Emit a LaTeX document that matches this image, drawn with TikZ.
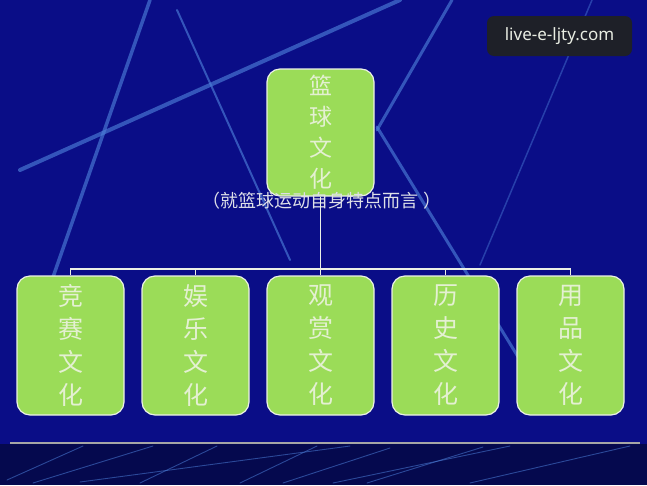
\documentclass[tikz,border=0pt]{standalone}
\usepackage{fontspec}
\setmainfont{Noto Sans}
\newfontfamily\cjk{Noto Sans CJK SC}
\definecolor{slide}{RGB}{10,13,135}
\definecolor{slidelow}{RGB}{5,9,78}
\definecolor{streak}{RGB}{75,125,215}
\definecolor{boxgreen}{RGB}{155,220,88}
\definecolor{boxedge}{RGB}{235,240,230}
\definecolor{boxtext}{RGB}{228,240,210}
\definecolor{marktone}{RGB}{30,32,40}
\tikzset{
  box/.style={draw=boxedge, line width=1.2pt, fill=boxgreen, rounded corners=13pt,
    minimum width=107pt, inner sep=0pt, text=boxtext, align=center},
  conn/.style={draw=boxedge, line width=1.2pt},
  streakline/.style={draw=streak, opacity=0.65, line cap=round}
}
\begin{document}
\begin{tikzpicture}[x=1pt,y=-1pt]
  % slide background
  \fill[slide] (0,0) rectangle (647,444);
  \fill[slidelow] (0,444) rectangle (647,485);
  \useasboundingbox (0,0) rectangle (647,485);
  \draw[streakline,line width=4pt] (20,170) -- (400,0);
  \draw[streakline,line width=3.5pt] (150,0) -- (45,300);
  \draw[streakline,line width=2pt] (177,10) -- (290,260);
  \draw[streakline,line width=3pt] (452,0) -- (377,130);
  \draw[streakline,line width=3pt] (377,127) -- (520,360);
  \draw[streakline,line width=1.5pt,opacity=0.45] (592,0) -- (480,265);
  % streaks in the lower band
  \foreach \a/\b/\c/\d in {7/480/83/446, 33/483/153/446, 80/482/350/446, 140/483/217/446,
      240/483/317/446, 283/483/390/448, 333/483/510/446, 367/483/483/447, 470/483/630/446}
    \draw[streakline,line width=0.9pt,opacity=0.55] (\a,\b) -- (\c,\d);
  \draw[line width=2pt,gray!70] (10,443) -- (640,443);
  % watermark
  \node[fill=marktone, rounded corners=7pt, minimum width=145pt, minimum height=40pt,
    text={rgb,255:red,232;green,236;blue,226}, font=\fontsize{17}{20}\selectfont] (mark) at (559.5,36) {live-e-ljty.com};
  % top node
  \node[box, minimum height=127pt, font=\cjk\fontsize{23}{31}\selectfont] (top) at (320.5,132.5)
    {篮\\球\\文\\化};
  \node[text={rgb,255:red,222;green,224;blue,232}, font=\cjk\fontsize{18}{20}\selectfont, inner sep=0pt] (cap) at (322,201)
    {（就篮球运动自身特点而言 ）};
  % the five branches
  \coordinate (bus) at (0,269);
  \foreach \a/\b [count=\i] in {竞/赛,娱/乐,观/赏,历/史,用/品}{
    \node[box, minimum height=139pt, font=\cjk\fontsize{25}{33}\selectfont] (b\i) at ({70.5+125*(\i-1)},345.5)
      {\a\\\b\\文\\化};
    \draw[conn] (top.south) |- (b\i.north|-bus) -- (b\i.north);
  }
\end{tikzpicture}
\end{document}
